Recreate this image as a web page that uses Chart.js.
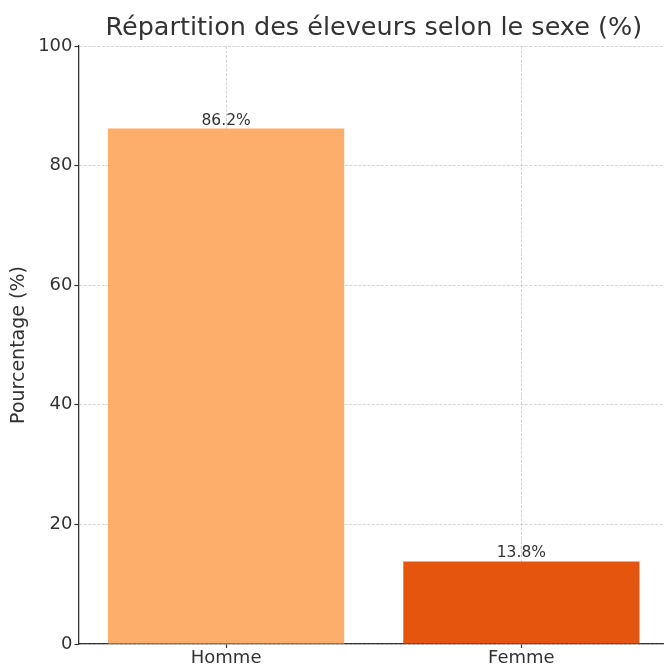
<!DOCTYPE html>
<html>
<head>
<meta charset="utf-8">
<script src="https://cdn.jsdelivr.net/npm/chart.js@4/dist/chart.umd.min.js"></script>
<style>
html,body{margin:0;padding:0;background:#fff;overflow:hidden;}
#wrap{width:664px;height:666px;overflow:hidden;}
</style>
</head>
<body>
<div id="wrap"><canvas id="c" width="670" height="666"></canvas></div>
<script>
const categories = ['Homme', 'Femme'];
const values = [86.2, 13.8];
const barColors = ['#fdae6b', '#e6550d'];
const yTicks = [0, 20, 40, 60, 80, 100];
const titleText = 'Répartition des éleveurs selon le sexe (%)';
const yTitle = 'Pourcentage (%)';

const FONT = "'DejaVu Sans', sans-serif";
const gridColor = 'rgba(176,176,176,0.65)';

const barLabels = {
  id: 'barLabels',
  afterDatasetsDraw(chart) {
    const ctx = chart.ctx;
    const meta = chart.getDatasetMeta(0);
    ctx.save();
    ctx.font = '15.5px ' + FONT;
    ctx.fillStyle = '#333333';
    ctx.textAlign = 'center';
    ctx.textBaseline = 'alphabetic';
    meta.data.forEach((bar, i) => {
      ctx.fillText(values[i].toFixed(1) + '%', bar.x, bar.y - 4);
    });
    ctx.restore();
  }
};

new Chart(document.getElementById('c'), {
  type: 'bar',
  data: {
    labels: categories,
    datasets: [{
      data: values,
      backgroundColor: barColors,
      borderWidth: 0,
      barPercentage: 0.8,
      categoryPercentage: 1.0
    }]
  },
  options: {
    responsive: false,
    animation: false,
    devicePixelRatio: 1,
    layout: { padding: { left: 0, right: 1, top: 0, bottom: 0 } },
    plugins: {
      legend: { display: false },
      tooltip: { enabled: false },
      title: {
        display: true,
        text: titleText,
        fullSize: false,
        color: '#333333',
        font: { family: FONT, size: 25.5, weight: 'normal', lineHeight: 1.2 },
        padding: { top: 13, bottom: 2.4 }
      }
    },
    scales: {
      x: {
        z: 1,
        offset: true,
        grid: {
          offset: false,
          color: gridColor,
          lineWidth: 0.8,
          drawTicks: true,
          tickLength: 4,
          tickColor: '#333333',
          tickWidth: 1.2,
          tickBorderDash: []
        },
        border: { display: true, color: '#333333', width: 1.3, dash: [3, 1.5] },
        ticks: {
          color: '#333333',
          font: { family: FONT, size: 18 },
          padding: 0
        },
        afterFit(scale) { scale.height = 22; }
      },
      y: {
        z: 1,
        min: 0,
        max: 100,
        afterBuildTicks(scale) { scale.ticks = yTicks.map(v => ({ value: v })); },
        grid: {
          color: gridColor,
          lineWidth: 0.8,
          drawTicks: true,
          tickLength: 4,
          tickColor: '#333333',
          tickWidth: 1.2,
          tickBorderDash: []
        },
        border: { display: true, color: '#333333', width: 1.3, dash: [3, 1.5] },
        ticks: {
          color: '#333333',
          font: { family: FONT, size: 18 },
          padding: 2
        },
        title: {
          display: true,
          text: yTitle,
          color: '#333333',
          font: { family: FONT, size: 19, lineHeight: 1.2 },
          padding: { top: 8, bottom: 0 }
        },
        afterFit(scale) { scale.width = 78.5; }
      }
    }
  },
  plugins: [barLabels]
});
</script>
</body>
</html>
